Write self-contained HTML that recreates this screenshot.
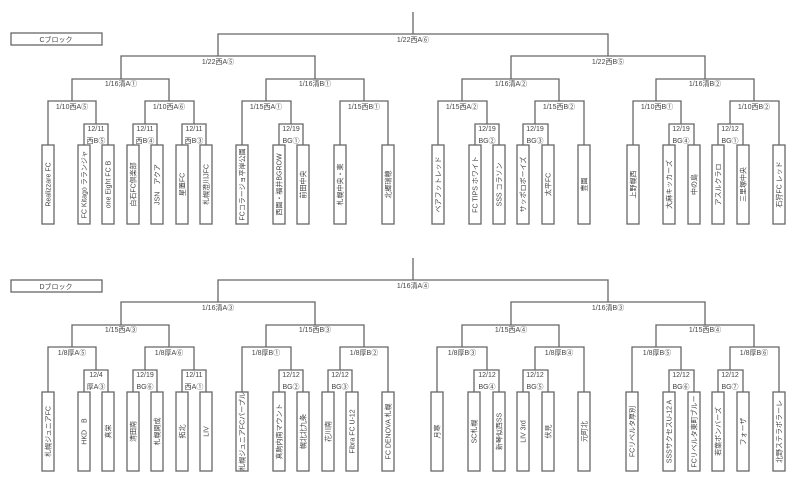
<!DOCTYPE html>
<html><head><meta charset="utf-8"><style>
html,body{margin:0;padding:0;background:#fff;}
svg{display:block;}
text{font-family:"Liberation Sans","Noto Sans CJK JP",sans-serif;font-size:7px;fill:#444;}
.l{fill:none;stroke:#666;stroke-width:1.3;}
.b{fill:#fff;stroke:#666;stroke-width:1.3;}
</style></head><body>
<svg width="800" height="494" viewBox="0 0 800 494" xmlns="http://www.w3.org/2000/svg">
<!-- C block -->
<g>
<rect class="b" x="11" y="33" width="91" height="12"/>
<text x="56" y="42" text-anchor="middle">Cブロック</text>
<path class="l" d="M413 12V34 M218 56V34H608V56 M121 79V56H315V79 M511 79V56H705V79
M72 101V79H169V101 M266 101V79H364V101 M462 101V79H559V101 M656 101V79H754V101
M48 145V101H96V124 M145 124V101H194V124 M242 145V101H291V124 M340 145V101H388V145
M438 145V101H487V124 M535 124V101H584V145 M633 145V101H681V124 M730 124V101H779V145
M84 145V124H108V145 M133 145V124H157V145 M182 145V124H206V145 M279 145V124H303V145
M475 145V124H499V145 M523 145V124H548V145 M669 145V124H694V145 M718 145V124H743V145"/>
<g text-anchor="middle">
<text x="413" y="42">1/22西A⑥</text>
<text x="218" y="64">1/22西A⑤</text><text x="608" y="64">1/22西B⑤</text>
<text x="121" y="86">1/16清A①</text><text x="315" y="86">1/16清B①</text><text x="511" y="86">1/16清A②</text><text x="705" y="86">1/16清B②</text>
<text x="72" y="109">1/10西A⑤</text><text x="169" y="109">1/10西A⑥</text><text x="266" y="109">1/15西A①</text><text x="364" y="109">1/15西B①</text>
<text x="462" y="109">1/15西A②</text><text x="559" y="109">1/15西B②</text><text x="657" y="109">1/10西B①</text><text x="754" y="109">1/10西B②</text>
<text x="96" y="131">12/11</text><text x="96" y="143">西B⑤</text>
<text x="145" y="131">12/11</text><text x="145" y="143">西B④</text>
<text x="194" y="131">12/11</text><text x="194" y="143">西B③</text>
<text x="291" y="131">12/19</text><text x="291" y="143">BG①</text>
<text x="487" y="131">12/19</text><text x="487" y="143">BG②</text>
<text x="535" y="131">12/19</text><text x="535" y="143">BG③</text>
<text x="681" y="131">12/19</text><text x="681" y="143">BG④</text>
<text x="730" y="131">12/12</text><text x="730" y="143">BG①</text>
</g>
<g>
<rect class="b" x="42" y="145" width="12" height="79"/><rect class="b" x="78" y="145" width="12" height="79"/><rect class="b" x="102" y="145" width="12" height="79"/>
<rect class="b" x="127" y="145" width="12" height="79"/><rect class="b" x="151" y="145" width="12" height="79"/><rect class="b" x="176" y="145" width="12" height="79"/>
<rect class="b" x="200" y="145" width="12" height="79"/><rect class="b" x="236" y="145" width="12" height="79"/><rect class="b" x="273" y="145" width="12" height="79"/>
<rect class="b" x="297" y="145" width="12" height="79"/><rect class="b" x="334" y="145" width="12" height="79"/><rect class="b" x="382" y="145" width="12" height="79"/>
<rect class="b" x="432" y="145" width="12" height="79"/><rect class="b" x="469" y="145" width="12" height="79"/><rect class="b" x="493" y="145" width="12" height="79"/>
<rect class="b" x="517" y="145" width="12" height="79"/><rect class="b" x="542" y="145" width="12" height="79"/><rect class="b" x="578" y="145" width="12" height="79"/>
<rect class="b" x="627" y="145" width="12" height="79"/><rect class="b" x="663" y="145" width="12" height="79"/><rect class="b" x="688" y="145" width="12" height="79"/>
<rect class="b" x="712" y="145" width="12" height="79"/><rect class="b" x="737" y="145" width="12" height="79"/><rect class="b" x="773" y="145" width="12" height="79"/>
</g>
<g text-anchor="middle">
<text transform="translate(50.5,184.5) rotate(-90)">Realizzare FC</text>
<text transform="translate(86.5,184.5) rotate(-90)">FC Kitago ラランジャ</text>
<text transform="translate(110.5,184.5) rotate(-90)">one Eight FC B</text>
<text transform="translate(135.5,184.5) rotate(-90)">白石FC倶楽部</text>
<text transform="translate(159.5,184.5) rotate(-90)">JSN　アクア</text>
<text transform="translate(184.5,184.5) rotate(-90)">星置FC</text>
<text transform="translate(208.5,184.5) rotate(-90)">札幌澄川JFC</text>
<text transform="translate(244.5,184.5) rotate(-90)">FCコラージョ平岸公園</text>
<text transform="translate(281.5,184.5) rotate(-90)">西園・福井BGROW</text>
<text transform="translate(305.5,184.5) rotate(-90)">前田中央</text>
<text transform="translate(342.5,184.5) rotate(-90)">札幌中央・東</text>
<text transform="translate(390.5,184.5) rotate(-90)">北郷瑞穂</text>
<text transform="translate(440.5,184.5) rotate(-90)">ベアフットレッド</text>
<text transform="translate(477.5,184.5) rotate(-90)">FC TIPS ホワイト</text>
<text transform="translate(501.5,184.5) rotate(-90)">SSS コラソン</text>
<text transform="translate(525.5,184.5) rotate(-90)">サッポロボーイズ</text>
<text transform="translate(550.5,184.5) rotate(-90)">太平FC</text>
<text transform="translate(586.5,184.5) rotate(-90)">豊園</text>
<text transform="translate(635.5,184.5) rotate(-90)">上野幌西</text>
<text transform="translate(671.5,184.5) rotate(-90)">大麻キッカーズ</text>
<text transform="translate(696.5,184.5) rotate(-90)">中の島</text>
<text transform="translate(720.5,184.5) rotate(-90)">アスルクラロ</text>
<text transform="translate(745.5,184.5) rotate(-90)">三里塚中央</text>
<text transform="translate(781.5,184.5) rotate(-90)">石狩FC レッド</text>
</g>
</g>
<!-- D block -->
<g transform="translate(0,246)">
<rect class="b" x="11" y="34" width="91" height="12"/>
<text x="56" y="43" text-anchor="middle">Dブロック</text>
<path class="l" d="M413 12V34 M218 56V34H608V56 M121 79V56H315V79 M511 79V56H705V79
M72 101V79H169V101 M266 101V79H364V101 M462 101V79H559V101 M656 101V79H754V101
M48 146V101H96V124 M145 124V101H194V124 M242 146V101H291V124 M340 124V101H388V146
M437 146V101H487V124 M535 124V101H584V146 M632 146V101H681V124 M730 124V101H779V146
M84 146V124H108V146 M133 146V124H157V146 M182 146V124H206V146 M279 146V124H303V146 M328 146V124H352V146
M474 146V124H499V146 M523 146V124H548V146 M669 146V124H694V146 M718 146V124H743V146"/>
<g text-anchor="middle">
<text x="413" y="42">1/16清A④</text>
<text x="218" y="64">1/16清A③</text><text x="608" y="64">1/16清B③</text>
<text x="121" y="86">1/15西A③</text><text x="315" y="86">1/15西B③</text><text x="511" y="86">1/15西A④</text><text x="705" y="86">1/15西B④</text>
<text x="72" y="109">1/8厚A⑤</text><text x="169" y="109">1/8厚A⑥</text><text x="266" y="109">1/8厚B①</text><text x="364" y="109">1/8厚B②</text>
<text x="462" y="109">1/8厚B③</text><text x="559" y="109">1/8厚B④</text><text x="657" y="109">1/8厚B⑤</text><text x="754" y="109">1/8厚B⑥</text>
<text x="96" y="131">12/4</text><text x="96" y="143">厚A③</text>
<text x="145" y="131">12/19</text><text x="145" y="143">BG⑥</text>
<text x="194" y="131">12/11</text><text x="194" y="143">西A①</text>
<text x="291" y="131">12/12</text><text x="291" y="143">BG②</text>
<text x="340" y="131">12/12</text><text x="340" y="143">BG③</text>
<text x="487" y="131">12/12</text><text x="487" y="143">BG④</text>
<text x="535" y="131">12/12</text><text x="535" y="143">BG⑤</text>
<text x="681" y="131">12/12</text><text x="681" y="143">BG⑥</text>
<text x="730" y="131">12/12</text><text x="730" y="143">BG⑦</text>
</g>
<g>
<rect class="b" x="42" y="146" width="12" height="79"/><rect class="b" x="78" y="146" width="12" height="79"/><rect class="b" x="102" y="146" width="12" height="79"/>
<rect class="b" x="127" y="146" width="12" height="79"/><rect class="b" x="151" y="146" width="12" height="79"/><rect class="b" x="176" y="146" width="12" height="79"/>
<rect class="b" x="200" y="146" width="12" height="79"/><rect class="b" x="236" y="146" width="12" height="79"/><rect class="b" x="273" y="146" width="12" height="79"/>
<rect class="b" x="297" y="146" width="12" height="79"/><rect class="b" x="322" y="146" width="12" height="79"/><rect class="b" x="346" y="146" width="12" height="79"/>
<rect class="b" x="382" y="146" width="12" height="79"/>
<rect class="b" x="431" y="146" width="12" height="79"/><rect class="b" x="468" y="146" width="12" height="79"/><rect class="b" x="493" y="146" width="12" height="79"/>
<rect class="b" x="517" y="146" width="12" height="79"/><rect class="b" x="542" y="146" width="12" height="79"/><rect class="b" x="578" y="146" width="12" height="79"/>
<rect class="b" x="626" y="146" width="12" height="79"/><rect class="b" x="663" y="146" width="12" height="79"/><rect class="b" x="688" y="146" width="12" height="79"/>
<rect class="b" x="712" y="146" width="12" height="79"/><rect class="b" x="737" y="146" width="12" height="79"/><rect class="b" x="773" y="146" width="12" height="79"/>
</g>
<g text-anchor="middle">
<text transform="translate(50.5,185.5) rotate(-90)">札幌ジュニアFC</text>
<text transform="translate(86.5,185.5) rotate(-90)">HKD　B</text>
<text transform="translate(110.5,185.5) rotate(-90)">真栄</text>
<text transform="translate(135.5,185.5) rotate(-90)">清田南</text>
<text transform="translate(159.5,185.5) rotate(-90)">札幌開成</text>
<text transform="translate(184.5,185.5) rotate(-90)">拓北</text>
<text transform="translate(208.5,185.5) rotate(-90)">LIV</text>
<text transform="translate(244.5,185.5) rotate(-90)">札幌ジュニアFCパープル</text>
<text transform="translate(281.5,185.5) rotate(-90)">真駒内南マウント</text>
<text transform="translate(305.5,185.5) rotate(-90)">幌北北九条</text>
<text transform="translate(330.5,185.5) rotate(-90)">花川南</text>
<text transform="translate(354.5,185.5) rotate(-90)">Fibra FC U-12</text>
<text transform="translate(390.5,185.5) rotate(-90)">FC DENOVA 札幌</text>
<text transform="translate(439.5,185.5) rotate(-90)">月寒</text>
<text transform="translate(476.5,185.5) rotate(-90)">SC札幌</text>
<text transform="translate(501.5,185.5) rotate(-90)">新琴似西SS</text>
<text transform="translate(525.5,185.5) rotate(-90)">LIV 3rd</text>
<text transform="translate(550.5,185.5) rotate(-90)">伏見</text>
<text transform="translate(586.5,185.5) rotate(-90)">元町北</text>
<text transform="translate(634.5,185.5) rotate(-90)">FCリベルタ厚別</text>
<text transform="translate(671.5,185.5) rotate(-90)">SSSサクセスU-12 A</text>
<text transform="translate(696.5,185.5) rotate(-90)">FCリベルタ東町ブルー</text>
<text transform="translate(720.5,185.5) rotate(-90)">若葉ボンバーズ</text>
<text transform="translate(745.5,185.5) rotate(-90)">フォーザ</text>
<text transform="translate(781.5,185.5) rotate(-90)">北野ステラボラーレ</text>
</g>
</g>
</svg>
</body></html>
